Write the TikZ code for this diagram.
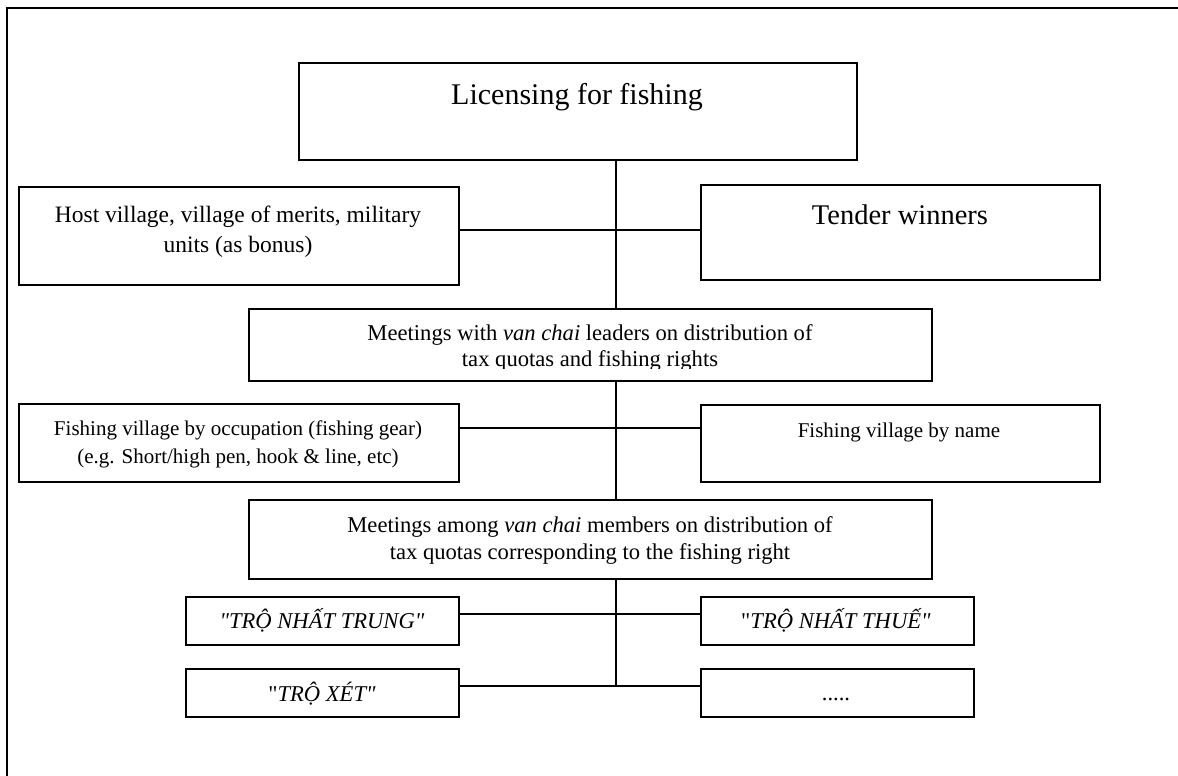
\documentclass[tikz,border=0pt]{standalone}
\usepackage{fontspec}
\setmainfont{Liberation Serif}[Ligatures=TeXOff]
\newcommand\setfs[1]{\fontsize{#1}{#1}\selectfont}
\begin{document}
\begin{tikzpicture}[x=1pt,y=-1pt,
  box/.style={draw, line width=1.8pt, rectangle, inner sep=0pt, anchor=north west},
  conn/.style={line width=1.3pt},
  txt/.style={anchor=base, inner sep=0pt},
  frame/.style={line width=2pt}]
\useasboundingbox (0,0) rectangle (1178,776);
% outer frame (only top and left edges visible)
\draw[frame] (7,776) -- (7,8) -- (1178,8);
% boxes
\node[box, minimum width=558pt, minimum height=97pt] (lic) at (298,62) {};
\node[box, minimum width=440pt, minimum height=98pt] (host) at (18,186) {};
\node[box, minimum width=399pt, minimum height=95pt] (tender) at (700,184) {};
\node[box, minimum width=683pt, minimum height=72pt] (leaders) at (248,308) {};
\node[box, minimum width=440pt, minimum height=78pt] (occ) at (18,403) {};
\node[box, minimum width=399pt, minimum height=77pt] (name) at (700,404) {};
\node[box, minimum width=683pt, minimum height=79pt] (members) at (248,499) {};
\node[box, minimum width=273pt, minimum height=48pt] (trung) at (185,596) {};
\node[box, minimum width=273pt, minimum height=48pt] (thue) at (700,596) {};
\node[box, minimum width=273pt, minimum height=48pt] (xet) at (185,668) {};
\node[box, minimum width=273pt, minimum height=48pt] (dots) at (700,668) {};
% trunk
\coordinate (t) at (616,0);
\coordinate (tend) at (616,686);
\draw[conn] (lic.south -| t) -- (leaders.north -| t);
\draw[conn] (leaders.south -| t) -- (members.north -| t);
\draw[conn] (members.south -| t) -- (tend);
% branches
\draw[conn] (host.east |- 0,230) -- (tender.west |- 0,230);
\draw[conn] (occ.east |- 0,428) -- (name.west |- 0,428);
\draw[conn] (trung.east |- 0,614) -- (thue.west |- 0,614);
\draw[conn] (xet.east |- 0,686) -- (tend) -- (dots.west |- 0,686);
% texts
\node[txt] (licT) at (577,104) {\setfs{30}Licensing for fishing};
\node[txt] (hostT1) at (238,222) {\setfs{23.5}Host village, village of merits, military};
\node[txt] (hostT2) at (238,252) {\setfs{23.5}units (as bonus)};
\node[txt] (tenderT) at (900,224) {\setfs{28.5}Tender winners};
\begin{scope}
\clip (248,308) rectangle (931,368.5);
\node[txt] (leadT1) at (590,340) {\setfs{22.6}Meetings with \textit{van chai} leaders on distribution of};
\node[txt] (leadT2) at (590,366) {\setfs{22.6}tax quotas and fishing rights};
\end{scope}
\node[txt] (occT1) at (238,435) {\setfs{21}Fishing village by occupation (fishing gear)};
\node[txt] (occT2) at (238,463) {\setfs{21}(e.g. Short/high pen, hook \& line, etc)};
\node[txt] (nameT) at (899,437) {\setfs{21}Fishing village by name};
\node[txt] (memT1) at (590,532) {\setfs{22.6}Meetings among \textit{van chai} members on distribution of};
\node[txt] (memT2) at (590,559) {\setfs{22.6}tax quotas corresponding to the fishing right};
\node[txt] (trungT) at (322,628) {\setfs{22.6}\textit{"TRỘ NHẤT TRUNG"}};
\node[txt] (thueT) at (836,628) {\setfs{22.6}"\textit{TRỘ NHẤT THUẾ"}};
\node[txt] (xetT) at (322,701) {\setfs{22.6}"\textit{TRỘ XÉT"}};
\node[txt] (dotsT) at (836,700) {\setfs{22.6}.....};
\end{tikzpicture}
\end{document}
